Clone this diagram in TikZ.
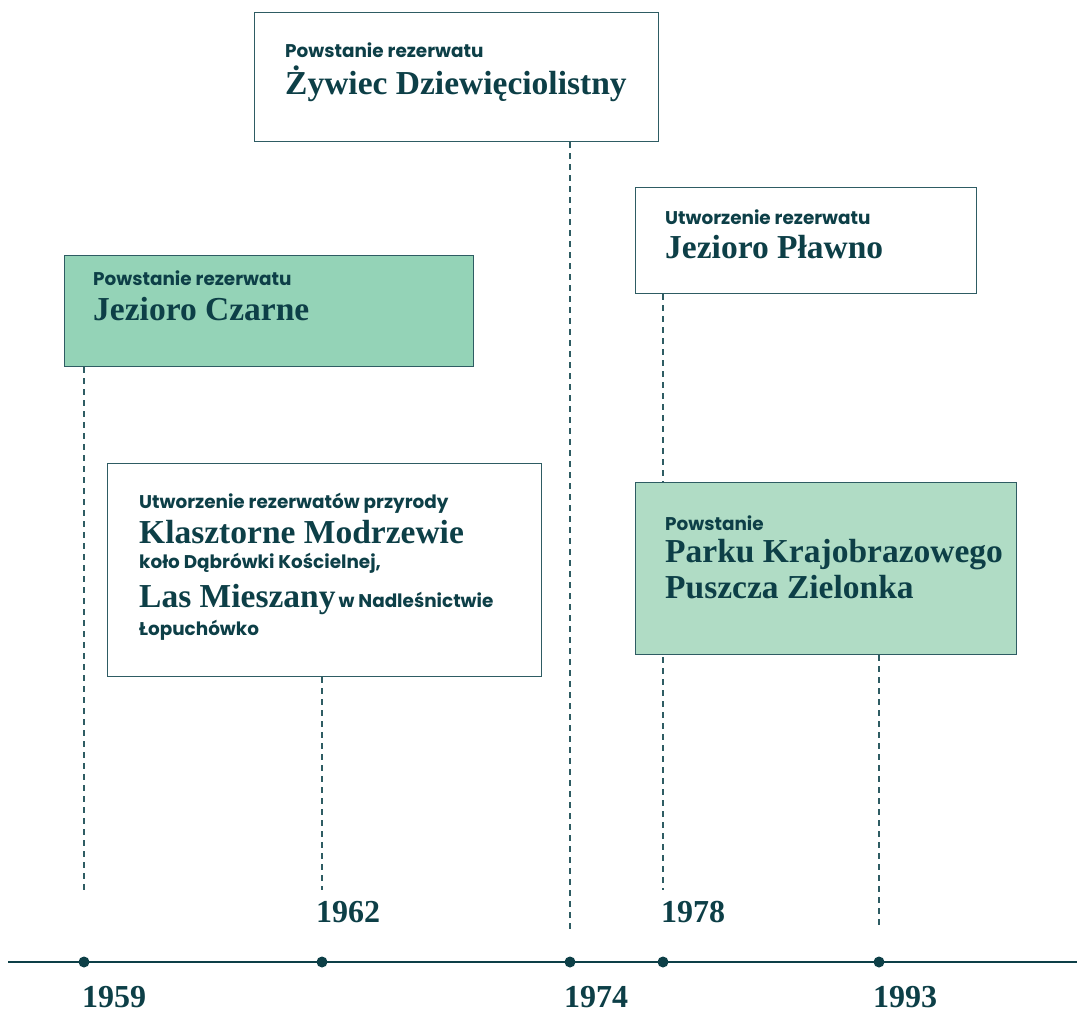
\documentclass[tikz,border=0pt]{standalone}
\usepackage{fontspec}
\setmainfont{Liberation Serif}
\setsansfont{Poppins}
\usetikzlibrary{backgrounds}
\definecolor{ink}{HTML}{0D3F47}
\definecolor{frame}{HTML}{2E5C63}
\definecolor{mint}{HTML}{94D3B7}
\definecolor{pale}{HTML}{B0DCC5}
\tikzset{
	box/.style={draw=frame, line width=1.3pt, anchor=north west, inner sep=0pt},
	lead/.style={anchor=base west, inner sep=0pt, text=ink, font=\sffamily\bfseries\fontsize{18.4}{20}\selectfont},
	title/.style={anchor=base west, inner sep=0pt, text=ink, font=\bfseries\fontsize{33.5}{36}\selectfont},
	year/.style={anchor=base west, inner sep=0pt, text=ink, font=\bfseries\fontsize{32}{36}\selectfont},
	dot/.style={circle, fill=ink, inner sep=0pt, minimum size=11pt},
	guide/.style={draw=frame, line width=1.1pt, dash pattern=on 6pt off 5pt}
}
\begin{document}
\begin{tikzpicture}[x=1pt, y=-1pt]
			\useasboundingbox (0, 0) rectangle (1077, 1014);
			% ramki
			\node[box, fill=white, minimum width=404pt, minimum height=129pt] at (254, 12) (zywiec) {};
			\node[box, fill=mint, minimum width=409pt, minimum height=111pt] at (64, 255) (czarne) {};
			\node[box, fill=white, minimum width=434pt, minimum height=213pt] at (107, 463) (klasztor) {};
			\node[box, fill=white, minimum width=341pt, minimum height=106pt] at (635, 187) (plawno) {};
			\node[box, fill=pale, minimum width=381pt, minimum height=172pt] at (635, 482) (park) {};
			% teksty
			\node[lead] at (285, 58) (zywiec-a) {Powstanie rezerwatu};
			\node[title] at (285, 95) (zywiec-b) {Żywiec Dziewięciolistny};
			\node[lead] at (93, 285) (czarne-a) {Powstanie rezerwatu};
			\node[title] at (93, 320) (czarne-b) {Jezioro Czarne};
			\node[lead] at (139, 508) (klasztor-a) {Utworzenie rezerwatów przyrody};
			\node[title] at (139, 543) (klasztor-b) {Klasztorne Modrzewie};
			\node[lead] at (139, 568) (klasztor-c) {koło Dąbrówki Kościelnej,};
			\node[title] at (139, 607) (klasztor-d) {Las Mieszany{\sffamily\fontsize{18.4}{20}\selectfont\,w Nadleśnictwie}};
			\node[lead] at (139, 635) (klasztor-e) {Łopuchówko};
			\node[lead] at (665, 224) (plawno-a) {Utworzenie rezerwatu};
			\node[title] at (665, 258) (plawno-b) {Jezioro Pławno};
			\node[lead] at (665, 530) (park-a) {Powstanie};
			\node[title] at (665, 562) (park-b) {Parku Krajobrazowego};
			\node[title] at (665, 598) (park-c) {Puszcza Zielonka};
			% os czasu
			\coordinate (start) at (8, 962);
			\coordinate (end) at (1077, 962);
			\draw[ink, line width=1.5pt] (start) -- (end);
			\node[dot] at (84, 962) (d1959) {};
			\node[dot] at (322, 962) (d1962) {};
			\node[dot] at (570, 962) (d1974) {};
			\node[dot] at (663, 962) (d1978) {};
			\node[dot] at (879, 962) (d1993) {};
			\node[year] at (82, 1007) (y1959) {1959};
			\node[year] at (316, 922) (y1962) {1962};
			\node[year] at (564, 1007) (y1974) {1974};
			\node[year] at (661, 922) (y1978) {1978};
			\node[year] at (873, 1007) (y1993) {1993};
			% linie przerywane
			\coordinate (e1959) at (84, 890);
			\coordinate (e1962) at (322, 890);
			\coordinate (e1974) at (570, 930);
			\coordinate (e1978) at (663, 890);
			\coordinate (e1993) at (879, 930);
			\begin{scope}[on background layer]
				\draw[guide] (czarne.south -| d1959) -- (e1959);
				\draw[guide] (klasztor.south -| d1962) -- (e1962);
				\draw[guide] (zywiec.south -| d1974) -- (e1974);
				\draw[guide] (plawno.south -| d1978) -- (e1978);
				\draw[guide] (park.south -| d1993) -- (e1993);
			\end{scope}
		\end{tikzpicture}
\end{document}
